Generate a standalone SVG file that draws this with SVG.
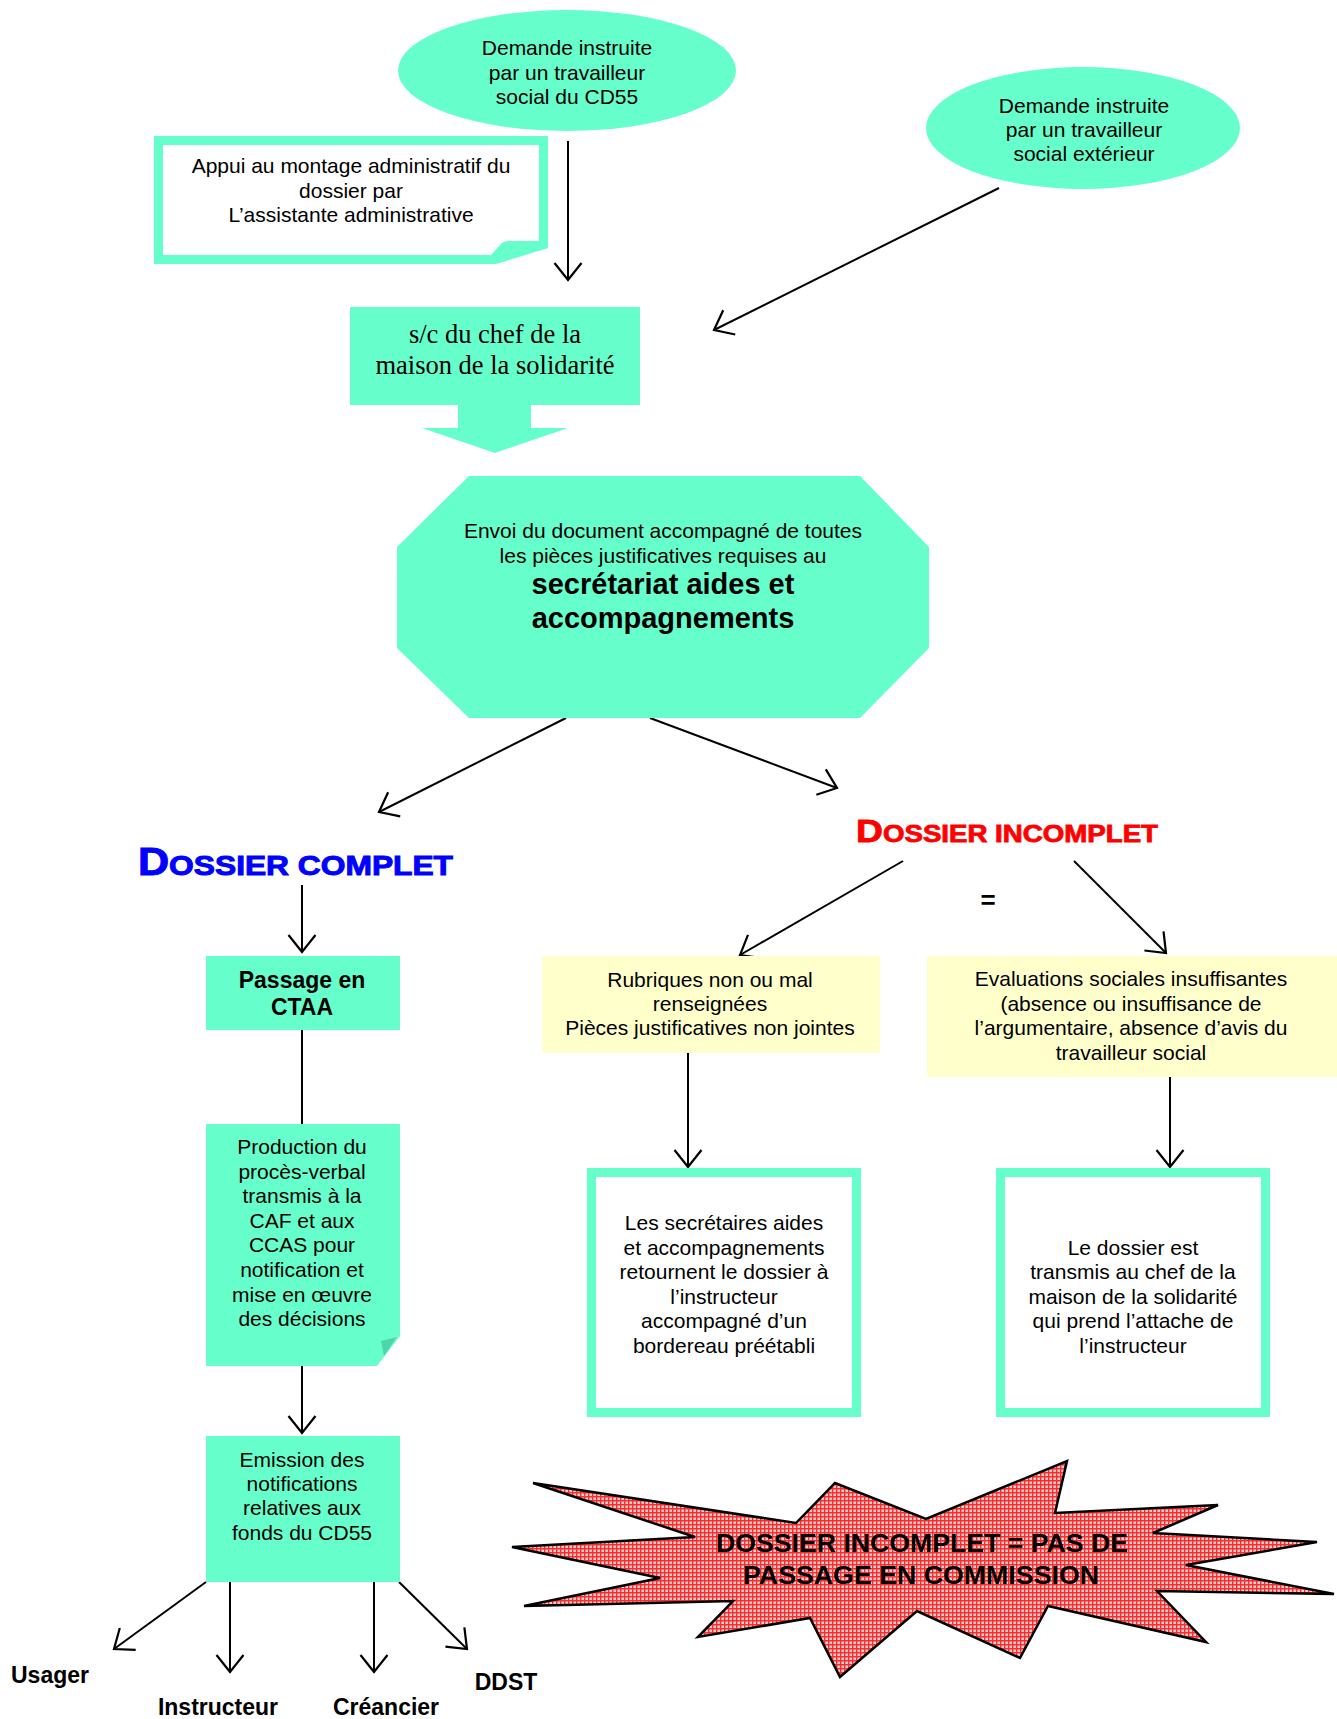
<svg xmlns="http://www.w3.org/2000/svg" width="1337" height="1719" viewBox="0 0 1337 1719">
<style>
.t{font-family:"Liberation Sans",Arial,sans-serif;font-size:21px;fill:#000;text-anchor:middle}
.b{font-family:"Liberation Sans",Arial,sans-serif;font-weight:bold;fill:#000;text-anchor:middle}
.s{font-family:"Liberation Serif","Times New Roman",serif;font-size:26.5px;fill:#000;text-anchor:middle}
.teal{fill:#66FFCC}
.yel{fill:#FFFFCC}
.frame{fill:#FFFFFF;stroke:#66FFCC;stroke-width:9}
.c{stroke:#000;stroke-width:2;fill:none}
.ca{stroke:#000;stroke-width:2;fill:none;marker-end:url(#ah)}
</style>
<defs>
<marker id="ah" viewBox="-20 -16 24 32" refX="0" refY="0" markerWidth="24" markerHeight="32" markerUnits="userSpaceOnUse" orient="auto">
<path d="M-17,-13.5 L0,0 L-17,13.5" fill="none" stroke="#000" stroke-width="2.2"/>
</marker>
<pattern id="hatch" width="4" height="4" patternUnits="userSpaceOnUse">
<rect width="4" height="4" fill="#FFC8C8"/>
<path d="M0,0.7 H4 M0.7,0 V4" stroke="#F23030" stroke-width="1.4"/>
</pattern>
</defs>
<rect width="1337" height="1719" fill="#FFFFFF"/>

<g id="connectors">
<line class="ca" x1="568" y1="141" x2="568" y2="280"/>
<line class="ca" x1="999" y1="188" x2="714" y2="330"/>
<line class="ca" x1="566" y1="718" x2="379" y2="812"/>
<line class="ca" x1="650" y1="718" x2="837" y2="788"/>
<line class="ca" x1="302" y1="885" x2="302" y2="952"/>
<line class="ca" x1="903" y1="861" x2="740" y2="955"/>
<line class="ca" x1="1074" y1="861" x2="1166" y2="953"/>
<line class="ca" x1="688" y1="1053" x2="688" y2="1167"/>
<line class="ca" x1="1170" y1="1077" x2="1170" y2="1167"/>
<line class="c" x1="302" y1="1030" x2="302" y2="1124"/>
<line class="ca" x1="302" y1="1366" x2="302" y2="1433"/>
<line class="ca" x1="206" y1="1582" x2="114" y2="1649"/>
<line class="ca" x1="230" y1="1582" x2="230" y2="1672"/>
<line class="ca" x1="374" y1="1582" x2="374" y2="1672"/>
<line class="ca" x1="399" y1="1582" x2="467" y2="1649"/>
</g>

<g id="demande-cd55">
<ellipse class="teal" cx="567" cy="70.5" rx="169" ry="60.5"/>
<text class="t" x="567" y="55">Demande instruite</text>
<text class="t" x="567" y="80">par un travailleur</text>
<text class="t" x="567" y="104">social du CD55</text>
</g>

<g id="appui">
<path class="teal" d="M154,136 H548 V248 L496,264 H154 Z"/>
<path fill="#FFFFFF" d="M163,145 H539 V241 H509 Q503,241 500,245 L491,255 H163 Z"/>
<text class="t" x="351" y="173">Appui au montage administratif du</text>
<text class="t" x="351" y="198">dossier par</text>
<text class="t" x="351" y="222">L’assistante administrative</text>
</g>

<g id="demande-exterieur">
<ellipse class="teal" cx="1083" cy="128" rx="157" ry="61"/>
<text class="t" x="1084" y="113">Demande instruite</text>
<text class="t" x="1084" y="137">par un travailleur</text>
<text class="t" x="1084" y="161">social extérieur</text>
</g>

<g id="sc-chef">
<rect class="teal" x="350" y="307" width="290" height="98"/>
<polygon class="teal" points="458,404 531,404 531,428 568,428 495,453 422,428 458,428"/>
<text class="s" x="495" y="343">s/c du chef de la</text>
<text class="s" x="495" y="374">maison de la solidarité</text>
</g>

<g id="envoi">
<polygon class="teal" points="469,476 860,476 929,547 929,648 860,718 469,718 397,648 397,547"/>
<text class="t" x="663" y="538">Envoi du document accompagné de toutes</text>
<text class="t" x="663" y="563">les pièces justificatives requises au</text>
<text class="b" x="663" y="594" font-size="29">secrétariat aides et</text>
<text class="b" x="663" y="628" font-size="29">accompagnements</text>
</g>

<g id="dossier-complet">
<text x="138" y="875" fill="#0000FF" stroke="#0000FF" stroke-width="1" font-family="Liberation Sans,Arial,sans-serif" font-weight="bold" textLength="315" lengthAdjust="spacingAndGlyphs"><tspan font-size="38">D</tspan><tspan font-size="28">OSSIER COMPLET</tspan></text>
</g>

<g id="dossier-incomplet">
<text x="856" y="842" fill="#FF0000" stroke="#FF0000" stroke-width="0.8" font-family="Liberation Sans,Arial,sans-serif" font-weight="bold" textLength="302" lengthAdjust="spacingAndGlyphs"><tspan font-size="31">D</tspan><tspan font-size="23">OSSIER INCOMPLET</tspan></text>
</g>

<g id="egal">
<text class="b" x="988" y="909" font-size="26">=</text>
</g>

<g id="ctaa">
<rect class="teal" x="206" y="956" width="194" height="74"/>
<text class="b" x="302" y="988" font-size="23">Passage en</text>
<text class="b" x="302" y="1015" font-size="23">CTAA</text>
</g>

<g id="production">
<path class="teal" d="M206,1124 H400 V1336 L377,1366 H206 Z"/>
<path fill="#4FD6A8" d="M381,1341 L397,1337 Q390,1347 384,1356 Z"/>
<text class="t" x="302" y="1154">Production du</text>
<text class="t" x="302" y="1179">procès-verbal</text>
<text class="t" x="302" y="1203">transmis à la</text>
<text class="t" x="302" y="1228">CAF et aux</text>
<text class="t" x="302" y="1252">CCAS pour</text>
<text class="t" x="302" y="1277">notification et</text>
<text class="t" x="302" y="1302">mise en œuvre</text>
<text class="t" x="302" y="1326">des décisions</text>
</g>

<g id="emission">
<rect class="teal" x="206" y="1436" width="194" height="146"/>
<text class="t" x="302" y="1467">Emission des</text>
<text class="t" x="302" y="1491">notifications</text>
<text class="t" x="302" y="1515">relatives aux</text>
<text class="t" x="302" y="1540">fonds du CD55</text>
</g>

<g id="usager"><text class="b" x="50" y="1683" font-size="23">Usager</text></g>
<g id="instructeur"><text class="b" x="218" y="1715" font-size="23">Instructeur</text></g>
<g id="creancier"><text class="b" x="386" y="1715" font-size="23">Créancier</text></g>
<g id="ddst"><text class="b" x="506" y="1690" font-size="23">DDST</text></g>

<g id="rubriques">
<rect class="yel" x="542" y="956" width="338" height="97"/>
<text class="t" x="710" y="987">Rubriques non ou mal</text>
<text class="t" x="710" y="1011">renseignées</text>
<text class="t" x="710" y="1035">Pièces justificatives non jointes</text>
</g>

<g id="evaluations">
<rect class="yel" x="927" y="956" width="410" height="121"/>
<text class="t" x="1131" y="986">Evaluations sociales insuffisantes</text>
<text class="t" x="1131" y="1011">(absence ou insuffisance de</text>
<text class="t" x="1131" y="1035">l’argumentaire, absence d’avis du</text>
<text class="t" x="1131" y="1060">travailleur social</text>
</g>

<g id="retour">
<rect class="frame" x="591.5" y="1172.5" width="265" height="240"/>
<text class="t" x="724" y="1230">Les secrétaires aides</text>
<text class="t" x="724" y="1255">et accompagnements</text>
<text class="t" x="724" y="1279">retournent le dossier à</text>
<text class="t" x="724" y="1304">l’instructeur</text>
<text class="t" x="724" y="1328">accompagné d’un</text>
<text class="t" x="724" y="1353">bordereau préétabli</text>
</g>

<g id="transmis">
<rect class="frame" x="1000.5" y="1172.5" width="265" height="240"/>
<text class="t" x="1133" y="1255">Le dossier est</text>
<text class="t" x="1133" y="1279">transmis au chef de la</text>
<text class="t" x="1133" y="1304">maison de la solidarité</text>
<text class="t" x="1133" y="1328">qui prend l’attache de</text>
<text class="t" x="1133" y="1353">l’instructeur</text>
</g>

<g id="explosion">
<polygon fill="url(#hatch)" stroke="#000" stroke-width="2.5" stroke-linejoin="miter" points="533,1483 796,1523 835,1483 926,1519 1067,1461 1055,1513 1218,1505 1153,1533 1317,1542 1186,1565 1334,1594 1157,1591 1206,1642 1048,1606 1020,1658 917,1611 840,1677 810,1618 698,1637 733,1601 524,1606 660,1578 512,1547 695,1537"/>
<text class="b" x="922" y="1552" font-size="25" textLength="412" lengthAdjust="spacingAndGlyphs">DOSSIER INCOMPLET = PAS DE</text>
<text class="b" x="921" y="1584" font-size="25" textLength="356" lengthAdjust="spacingAndGlyphs">PASSAGE EN COMMISSION</text>
</g>
</svg>
